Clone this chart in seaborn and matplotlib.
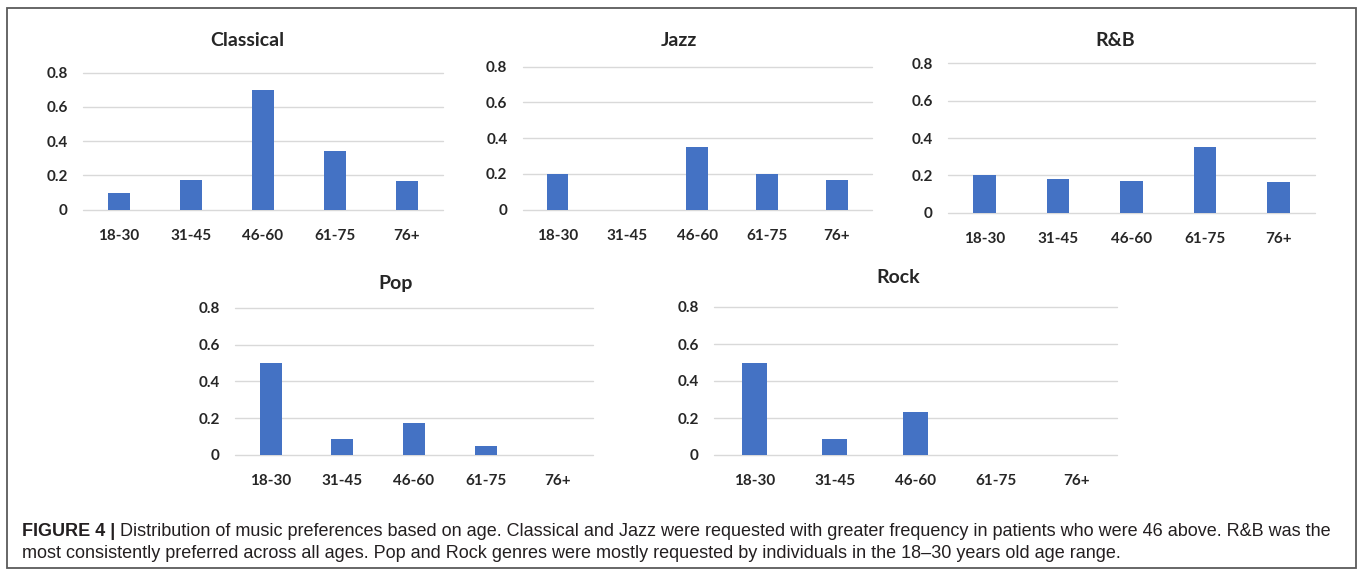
import matplotlib
matplotlib.use("Agg")
import matplotlib.pyplot as plt
import seaborn as sns
import pandas as pd
from matplotlib.patches import Rectangle

# Share of requests per age group for each genre
age_groups = ["18-30", "31-45", "46-60", "61-75", "76+"]
classical = [0.095, 0.175, 0.70, 0.345, 0.165]
jazz = [0.20, 0.0, 0.35, 0.20, 0.165]
rnb = [0.20, 0.18, 0.17, 0.35, 0.165]
pop = [0.50, 0.085, 0.175, 0.047, 0.0]
rock = [0.50, 0.085, 0.23, 0.0, 0.0]
y_ticks = [0, 0.2, 0.4, 0.6, 0.8]
y_tick_labels = ["0", "0.2", "0.4", "0.6", "0.8"]

caption_bold = "FIGURE 4 |"
caption_line1 = (" Distribution of music preferences based on age. Classical and Jazz were "
                 "requested with greater frequency in patients who were 46 above. R&B was the")
caption_line2 = ("most consistently preferred across all ages. Pop and Rock genres were mostly "
                 "requested by individuals in the 18\u201330 years old age range.")

sns.set_theme(style="white")
plt.rcParams["font.family"] = ["Lato", "DejaVu Sans"]

W, H = 1358, 575
fig = plt.figure(figsize=(W / 100, H / 100), dpi=100)
fig.patch.set_facecolor("white")

BAR = "#4472C4"
GRID = "#D9D9D9"
TXT = "#262626"

# panel layout in pixels: (name, values, left, right, top(0.8), bottom(0), title x, title y)
panels = [
    ("Classical", classical, 83, 443, 72.7, 209.5, 247, 40),
    ("Jazz", jazz, 522.7, 871.7, 66.7, 209.5, 679, 40),
    ("R&B", rnb, 948, 1315, 63.3, 212.7, 1115, 40),
    ("Pop", pop, 235, 593, 307.7, 455, 396, 283),
    ("Rock", rock, 714, 1117, 307, 455, 898, 278),
]

for name, vals, x0, x1, yt, yb, tx, ty in panels:
    ax = fig.add_axes([x0 / W, 1 - yb / H, (x1 - x0) / W, (yb - yt) / H])
    df = pd.DataFrame({"age": age_groups, "share": vals})
    sns.barplot(data=df, x="age", y="share", ax=ax, color=BAR, saturation=1,
                width=0.31, linewidth=0, order=age_groups)
    ax.set_xlim(-0.5, len(age_groups) - 0.5)
    ax.set_ylim(0, 0.8)
    ax.set_yticks(y_ticks)
    ax.set_yticklabels(y_tick_labels)
    ax.set_axisbelow(True)
    ax.yaxis.grid(True, color=GRID, linewidth=1.0)
    for gl in ax.get_ygridlines():
        gl.set_clip_on(False)
    for s in ax.spines.values():
        s.set_visible(False)
    ax.tick_params(axis="both", length=0, labelsize=11, colors=TXT)
    ax.tick_params(axis="y", pad=11)
    ax.tick_params(axis="x", pad=14)
    for lab in ax.get_xticklabels() + ax.get_yticklabels():
        lab.set_fontweight("bold")
    ax.set_xlabel("")
    ax.set_ylabel("")
    ax.patch.set_alpha(0)
    fig.text(tx / W, 1 - ty / H, name, ha="center", va="center",
             fontsize=14, fontweight="bold", color=TXT)

# outer frame
fig.add_artist(Rectangle((7 / W, 1 - 568 / H), (1356 - 7) / W, (568 - 8) / H,
                         transform=fig.transFigure, fill=False,
                         edgecolor="#5a5a5a", linewidth=1.3))

# caption
cap_font = ["Liberation Sans", "DejaVu Sans"]
cap_color = "#231F20"
cap_size = 13
t_bold = fig.text(22 / W, 1 - 531 / H, caption_bold, ha="left", va="center",
                  fontsize=cap_size, fontweight="bold", family=cap_font, color=cap_color)
fig.canvas.draw()
bb = t_bold.get_window_extent(renderer=fig.canvas.get_renderer())
fig.text(bb.x1 / W, 1 - 531 / H, caption_line1, ha="left", va="center",
         fontsize=cap_size, family=cap_font, color=cap_color)
fig.text(22 / W, 1 - 553 / H, caption_line2, ha="left", va="center",
         fontsize=cap_size, family=cap_font, color=cap_color)

fig.savefig("out.png", dpi=100, facecolor="white")
